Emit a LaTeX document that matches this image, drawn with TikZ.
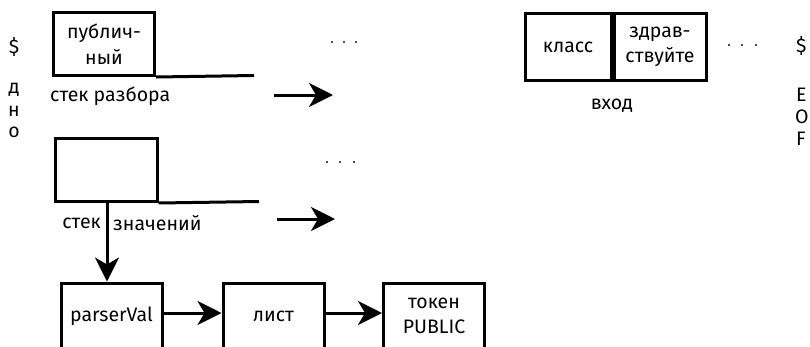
\documentclass[tikz,border=0pt]{standalone}
\usepackage{fontspec}
\setmainfont{Fira Sans}
\usetikzlibrary{arrows.meta}
\begin{document}
\begin{tikzpicture}[x=1pt,y=-1pt,
  txt/.style={font=\fontsize{19.5}{25.5}\selectfont, inner sep=0pt, align=center},
  box/.style={txt, draw, line width=3pt, inner sep=0pt},
  arr/.style={line width=3pt, -{Stealth[length=24pt,width=24pt,inset=7pt]}},
  dot/.style={fill=black!70, minimum size=2.6pt, inner sep=0pt, shape=rectangle}]
\useasboundingbox (0,0) rectangle (810,346);
\clip (0,0) rectangle (810,346);

% left column labels
\node[txt] (dol) at (14,47) {\$};
\node[txt] (d1) at (14,90) {д};
\node[txt] (d2) at (14,111) {н};
\node[txt] (d3) at (14,132) {о};

% parse stack
\node[box, minimum width=101, minimum height=63] (pbox) at (104,44) {публич-\\ный};
\coordinate (pend) at (254,75.5);
\draw[line width=3pt] (pbox.south east) -- (pend);
\node[txt, anchor=west] (plbl) at (50,96) {стек разбора};
\coordinate (pa1) at (274,95);
\coordinate (pa2) at (333,95);
\draw[arr] (pa1) -- (pa2);
\node[dot] (pd1) at (332,42) {};
\node[dot] (pd2) at (344,42) {};
\node[dot] (pd3) at (356,42) {};

% value stack
\node[box, minimum width=102, minimum height=63] (vbox) at (106,170) {};
\coordinate (vend) at (259,201.5);
\draw[line width=3pt] (vbox.south east) -- (vend);
\coordinate (va1) at (277,219);
\coordinate (va2) at (335,219);
\draw[arr] (va1) -- (va2);
\node[dot] (vd1) at (327,162) {};
\node[dot] (vd2) at (340,162) {};
\node[dot] (vd3) at (354,162) {};
\node[txt, anchor=east] (vl1) at (101,223) {стек};
\node[txt, anchor=west] (vl2) at (113,223) {значений};

% chain
\node[box, minimum width=101, minimum height=66] (pv) at (111.5,316) {parserVal};
\node[box, minimum width=101, minimum height=66] (list) at (273.5,316) {лист};
\node[box, minimum width=101, minimum height=66] (tok) at (434,316) {токен\\PUBLIC};
\coordinate (vs) at (107,201.5);
\draw[arr] (vs) -- (vs |- pv.north);
\draw[arr] (pv.east |- 0,313) -- (list.west |- 0,313);
\draw[arr] (list.east |- 0,313) -- (tok.west |- 0,313);

% input
\node[box, minimum width=86, minimum height=67] (k1) at (568,47) {класс};
\node[box, minimum width=92, minimum height=67, anchor=west] (k2) at (k1.east) {здрав-\\ствуйте};
\node[txt] (inl) at (612,106) {вход};
\node[dot] (id1) at (729,45) {};
\node[dot] (id2) at (742,45) {};
\node[dot] (id3) at (756,45) {};
\node[txt, anchor=west] (edol) at (796,46) {\$};
\node[txt, anchor=west] (e1) at (796,95) {E};
\node[txt, anchor=west] (e2) at (795,117) {O};
\node[txt, anchor=west] (e3) at (796,139) {F};
\end{tikzpicture}
\end{document}
